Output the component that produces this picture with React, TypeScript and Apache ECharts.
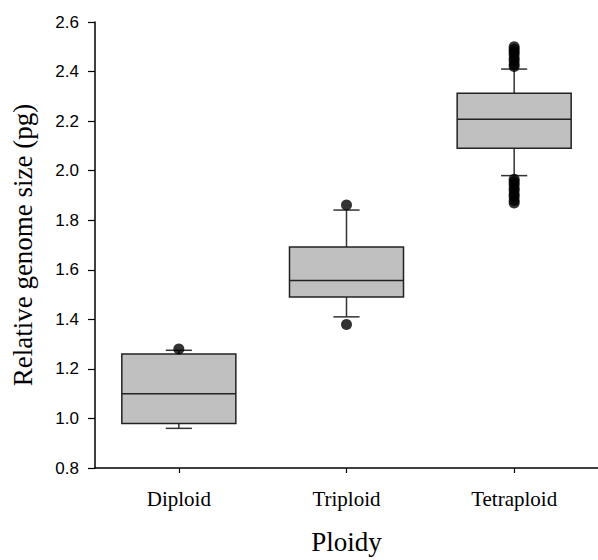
import React, { useEffect, useRef } from "react";
import * as echarts from "echarts";

const categories = ["Diploid", "Triploid", "Tetraploid"];
const whiskerLow = [0.96, 1.41, 1.98];
const q1Values = [0.98, 1.49, 2.09];
const medianValues = [1.1, 1.557, 2.208];
const q3Values = [1.26, 1.692, 2.312];
const whiskerHigh = [1.275, 1.841, 2.41];
const diploidOutliers = [1.28];
const triploidOutliers = [1.379, 1.861];
const tetraploidOutliers = [
  2.42, 2.43, 2.445, 2.455, 2.47, 2.48, 2.49, 2.5,
  1.87, 1.88, 1.895, 1.905, 1.92, 1.93, 1.945, 1.955, 1.965,
];
const yTicks = [0.8, 2.6, 0.2];

export default function App() {
  const ref = useRef<HTMLDivElement>(null);
  useEffect(() => {
    if (!ref.current) return;
    document.body.style.margin = "0";
    document.body.style.overflow = "hidden";
    const chart = echarts.init(ref.current, null, { renderer: "svg" });
    const boxData = categories.map((_, i) => [
      i,
      whiskerLow[i],
      q1Values[i],
      medianValues[i],
      q3Values[i],
      whiskerHigh[i],
    ]);
    const outlierData: number[][] = [];
    [diploidOutliers, triploidOutliers, tetraploidOutliers].forEach((arr, i) =>
      arr.forEach((v) => outlierData.push([i, v]))
    );
    const serif = "'Liberation Serif', 'Times New Roman', serif";
    const sans = "'Liberation Sans', Arial, sans-serif";
    chart.setOption({
      animation: false,
      backgroundColor: "#ffffff",
      grid: { left: 95, top: 22, width: 519, height: 451, containLabel: false },
      xAxis: {
        type: "category",
        data: categories,
        boundaryGap: true,
        name: "Ploidy",
        nameLocation: "middle",
        nameGap: 60,
        nameTextStyle: { fontFamily: serif, fontSize: 27, color: "#000" },
        axisLine: { show: true, lineStyle: { color: "#000", width: 1.5 } },
        axisTick: { show: true, alignWithLabel: true, length: 5, lineStyle: { color: "#000", width: 1.2 } },
        axisLabel: { fontFamily: serif, fontSize: 21, color: "#000", margin: 20 },
        splitLine: { show: false },
      },
      yAxis: {
        type: "value",
        min: yTicks[0],
        max: yTicks[1],
        interval: yTicks[2],
        name: "Relative genome size (pg)",
        nameLocation: "middle",
        nameGap: 59,
        nameTextStyle: { fontFamily: serif, fontSize: 27, color: "#000" },
        axisLine: { show: true, lineStyle: { color: "#000", width: 1.5 } },
        axisTick: { show: true, length: 7, lineStyle: { color: "#000", width: 1.2 } },
        axisLabel: {
          fontFamily: sans,
          fontSize: 17,
          color: "#000",
          margin: 16,
          formatter: (v: number) => v.toFixed(1),
        },
        splitLine: { show: false },
      },
      series: [
        {
          type: "custom",
          data: boxData,
          encode: { x: 0, y: [1, 2, 3, 4, 5] },
          renderItem: (params: any, api: any) => {
            const xi = api.value(0);
            const lo = api.coord([xi, api.value(1)]);
            const q1 = api.coord([xi, api.value(2)]);
            const med = api.coord([xi, api.value(3)]);
            const q3 = api.coord([xi, api.value(4)]);
            const hi = api.coord([xi, api.value(5)]);
            const band = api.size([1, 0])[0];
            const bw = band * 0.68;
            const cw = band * 0.156;
            const cx = med[0];
            const wStyle = { stroke: "#333", lineWidth: 1.5 };
            return {
              type: "group",
              children: [
                { type: "line", shape: { x1: cx, y1: lo[1], x2: cx, y2: q1[1] }, style: wStyle },
                { type: "line", shape: { x1: cx, y1: q3[1], x2: cx, y2: hi[1] }, style: wStyle },
                { type: "line", shape: { x1: cx - cw / 2, y1: lo[1], x2: cx + cw / 2, y2: lo[1] }, style: wStyle },
                { type: "line", shape: { x1: cx - cw / 2, y1: hi[1], x2: cx + cw / 2, y2: hi[1] }, style: wStyle },
                {
                  type: "rect",
                  shape: { x: cx - bw / 2, y: q3[1], width: bw, height: q1[1] - q3[1] },
                  style: { fill: "#c0c0c0", stroke: "#222", lineWidth: 1.5 },
                },
                { type: "line", shape: { x1: cx - bw / 2, y1: med[1], x2: cx + bw / 2, y2: med[1] }, style: { stroke: "#222", lineWidth: 1.5 } },
              ],
            };
          },
          z: 2,
        },
        {
          type: "scatter",
          data: outlierData,
          symbol: "circle",
          symbolSize: 11,
          itemStyle: { color: "#000" },
          z: 3,
        },
      ],
    });
    return () => chart.dispose();
  }, []);
  return (
    <div
      ref={ref}
      style={{ position: "fixed", left: 0, top: 0, width: 598, height: 560, overflow: "hidden" }}
    />
  );
}
